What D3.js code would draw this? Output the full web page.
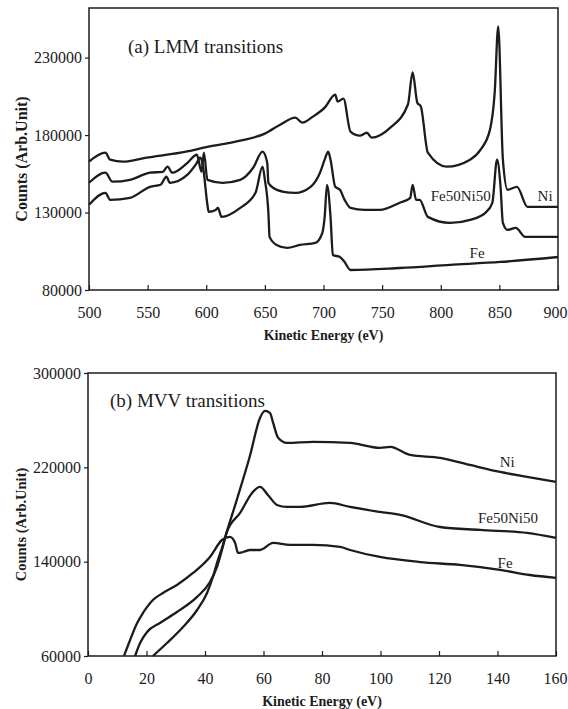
<!DOCTYPE html>
<html>
<head>
<meta charset="utf-8">
<script src="https://cdn.jsdelivr.net/npm/d3@7"></script>
<style>
  body { margin: 0; background: #fff; }
  svg { display: block; font-family: "Liberation Serif", "Times New Roman", serif; }
</style>
</head>
<body>
<script>
'use strict';

// (a) LMM transitions
const lmmTicksX = [500, 550, 600, 650, 700, 750, 800, 850, 900];
const lmmTicksY = [80000, 130000, 180000, 230000];

const lmmNiE = [500, 514, 518, 529, 549, 578, 602, 629, 650, 663, 676, 682, 691, 701, 710, 712, 717, 723, 731, 737, 741, 757, 772, 776, 780, 783, 789, 805, 825, 834, 842, 846, 849, 853, 857, 865, 874, 900];
const lmmNiC = [162800, 168600, 164100, 162800, 165400, 168600, 172500, 176400, 180900, 186700, 191200, 188000, 191900, 197700, 206100, 201600, 203500, 182200, 179600, 181500, 178300, 184800, 199700, 220400, 200900, 198400, 168600, 159600, 164100, 170600, 183500, 207400, 250100, 164100, 144700, 146600, 133700, 133700];

const lmmFeNiE = [500, 514, 520, 535, 552, 563, 567, 571, 584, 592, 596, 598, 601, 614, 629, 640, 648, 652, 653, 657, 666, 676, 689, 697, 701, 704, 706, 710, 714, 718, 723, 735, 748, 765, 774, 776, 779, 782, 789, 808, 825, 838, 844, 848, 851, 853, 857, 864, 872, 900];
const lmmFeNiC = [149200, 155700, 149900, 151100, 155700, 156300, 159600, 155700, 162100, 167300, 156300, 168600, 151100, 149200, 151100, 158900, 169300, 162100, 149200, 146000, 143400, 142700, 146600, 155700, 164100, 169300, 164100, 146600, 144700, 138200, 133000, 131700, 131700, 136300, 139500, 147900, 138200, 138200, 127200, 123300, 125300, 129800, 136300, 164100, 146600, 123300, 118800, 120100, 114300, 114300];

const lmmFeE = [500, 514, 518, 535, 552, 561, 566, 569, 584, 591, 595, 597, 601, 602, 608, 610, 613, 629, 642, 648, 650, 653, 654, 660, 669, 680, 693, 699, 701, 703, 706, 708, 714, 718, 723, 765, 808, 851, 900];
const lmmFeC = [135000, 142700, 138200, 139500, 146600, 147900, 153100, 149200, 154400, 160900, 165400, 160900, 135000, 130500, 131700, 133000, 127200, 133000, 142700, 159600, 151100, 129800, 114300, 109100, 107200, 109100, 110400, 116900, 127200, 147900, 127200, 102600, 101300, 98100, 92900, 94200, 96200, 98100, 101300];

// (b) MVV transitions
const mvvTicksX = [0, 20, 40, 60, 80, 100, 120, 140, 160];
const mvvTicksY = [60000, 140000, 220000, 300000];

const mvvNiE = [22.2, 27.0, 32.5, 37.3, 40.7, 42.7, 44.4, 45.8, 46.8, 51.0, 55.4, 58.8, 60.5, 62.2, 63.3, 65.0, 68.0, 76.9, 89.6, 99.8, 103.3, 110.1, 120.4, 130.6, 140.9, 150.1, 160];
const mvvNiC = [60000, 71000, 84600, 99000, 113400, 127000, 141400, 151500, 160000, 193500, 230000, 261900, 267900, 266200, 257700, 245000, 240700, 241600, 240700, 236500, 237300, 230500, 228000, 222000, 216100, 211900, 207600];

const mvvFeNiE = [16.1, 17.8, 20.2, 24.6, 30.4, 37.3, 41.7, 44.1, 45.8, 47.5, 52.0, 56.1, 58.8, 61.5, 64.6, 68.0, 72.5, 82.7, 89.6, 99.8, 106.7, 120.4, 134.0, 150.1, 160];
const mvvFeNiC = [60000, 71000, 80400, 88000, 97300, 110100, 122800, 135500, 149900, 165200, 181300, 198300, 203400, 196600, 188100, 186400, 186400, 189800, 186400, 182200, 179600, 169400, 166900, 164400, 160100];

const mvvFeE = [12.3, 14.4, 16.8, 18.8, 22.2, 25.6, 30.4, 35.9, 41.7, 45.8, 48.5, 50.3, 51.3, 53.0, 55.4, 58.8, 63.3, 69.1, 76.9, 86.2, 89.6, 99.8, 113.5, 127.2, 140.9, 151.1, 160];
const mvvFeC = [60000, 73600, 88000, 96500, 107500, 113400, 120200, 130400, 144000, 158400, 161000, 155900, 147400, 148200, 149900, 149900, 155900, 154200, 154200, 152500, 149900, 144000, 139700, 137200, 133000, 128700, 126200];

const seriesNames = ["Ni", "Fe50Ni50", "Fe"];

(function() {

  let svg = "";
  const ink = "#1c1c1c";
  const serif = '"Liberation Serif", "Times New Roman", serif';
  const pageWidth = 568;

  window.onload = function() {
    svg = d3.select('body')
      .append('svg')
      .attr('width', pageWidth)
      .attr('height', 709);

    // top panel
    drawPanel({
      box: {left: 89, right: 558, top: 8, bottom: 290},
      xDomain: [500, 900], yDomain: [80000, 262000],
      xTicks: lmmTicksX, yTicks: lmmTicksY,
      series: [[lmmNiE, lmmNiC], [lmmFeNiE, lmmFeNiC], [lmmFeE, lmmFeC]],
      labels: [[889, 137600], [817, 137600], [831, 100700]],
      title: "(a) LMM transitions", titleAt: [128, 53],
      xTitleY: 340, yTitleX: 27, yTitleSize: 16
    });

    // bottom panel
    drawPanel({
      box: {left: 88, right: 556, top: 373, bottom: 656},
      xDomain: [0, 160], yDomain: [60000, 300000],
      xTicks: mvvTicksX, yTicks: mvvTicksY,
      series: [[mvvNiE, mvvNiC], [mvvFeNiE, mvvFeNiC], [mvvFeE, mvvFeC]],
      labels: [[143.3, 220300], [143.6, 172800], [142.6, 134700]],
      title: "(b) MVV transitions", titleAt: [110, 407],
      xTitleY: 706, yTitleX: 26, yTitleSize: 14.5
    });
  }

  function drawPanel(p) {
    let b = p.box;
    let g = svg.append('g');

    let xScale = d3.scaleLinear().domain(p.xDomain).range([b.left, b.right]);
    let yScale = d3.scaleLinear().domain(p.yDomain).range([b.bottom, b.top]);

    // x axis, ticks pointing inward
    let xAxis = d3.axisBottom(xScale).tickValues(p.xTicks).tickSize(0).tickPadding(17);
    let gx = g.append('g')
      .attr('transform', 'translate(0,' + b.bottom + ')')
      .call(xAxis)
      .attr('font-family', serif);
    gx.select('.domain').remove();
    gx.selectAll('.tick line').attr('y2', -5).attr('stroke', ink).attr('stroke-width', 1.2);
    gx.selectAll('.tick text')
      .style('font-size', '16px')
      .attr('fill', ink);

    // keep the last label inside the page edge
    gx.selectAll('.tick text')
      .filter((d) => d == p.xTicks[p.xTicks.length - 1])
      .attr('text-anchor', 'end')
      .attr('x', pageWidth - 1 - b.right);

    // y axis, ticks pointing outward
    let yAxis = d3.axisLeft(yScale).tickValues(p.yTicks).tickSize(4).tickPadding(3).tickFormat(d3.format('d'));
    let gy = g.append('g')
      .attr('transform', 'translate(' + b.left + ',0)')
      .call(yAxis)
      .attr('font-family', serif);
    gy.select('.domain').remove();
    gy.selectAll('.tick line').attr('stroke', ink).attr('stroke-width', 1.2);
    gy.selectAll('.tick text')
      .style('font-size', '16px')
      .attr('fill', ink);

    // frame
    g.append('rect')
      .attr('x', b.left)
      .attr('y', b.top)
      .attr('width', b.right - b.left)
      .attr('height', b.bottom - b.top)
      .attr('fill', 'none')
      .attr('stroke', ink)
      .attr('stroke-width', 1.5);

    // spectra
    let line = d3.line()
      .curve(d3.curveMonotoneX)
      .x((d) => xScale(d[0]))
      .y((d) => yScale(d[1]));

    p.series.forEach((s) => {
      let pts = s[0].map((e, i) => [e, s[1][i]]);
      g.append('path')
        .datum(pts)
        .attr('fill', 'none')
        .attr('stroke', ink)
        .attr('stroke-width', 2.3)
        .attr('stroke-linejoin', 'round')
        .attr('d', line);
    });

    // series labels
    p.labels.forEach((l, i) => {
      g.append('text')
        .attr('x', xScale(l[0]))
        .attr('y', yScale(l[1]))
        .attr('text-anchor', 'middle')
        .style('font-size', '15px')
        .attr('fill', ink)
        .text(seriesNames[i]);
    });

    // panel title
    g.append('text')
      .attr('x', p.titleAt[0])
      .attr('y', p.titleAt[1])
      .style('font-size', '19px')
      .attr('fill', ink)
      .text(p.title);

    // axis titles
    g.append('text')
      .attr('x', (b.left + b.right) / 2)
      .attr('y', p.xTitleY)
      .attr('text-anchor', 'middle')
      .style('font-size', '14px')
      .style('font-weight', 'bold')
      .attr('fill', ink)
      .text('Kinetic Energy (eV)');

    g.append('text')
      .attr('transform', 'translate(' + p.yTitleX + ',' + ((b.top + b.bottom) / 2 + 10) + ')rotate(-90)')
      .attr('text-anchor', 'middle')
      .style('font-size', p.yTitleSize + 'px')
      .style('font-weight', 'bold')
      .attr('fill', ink)
      .text('Counts (Arb.Unit)');
  }
})();
</script>
</body>
</html>
